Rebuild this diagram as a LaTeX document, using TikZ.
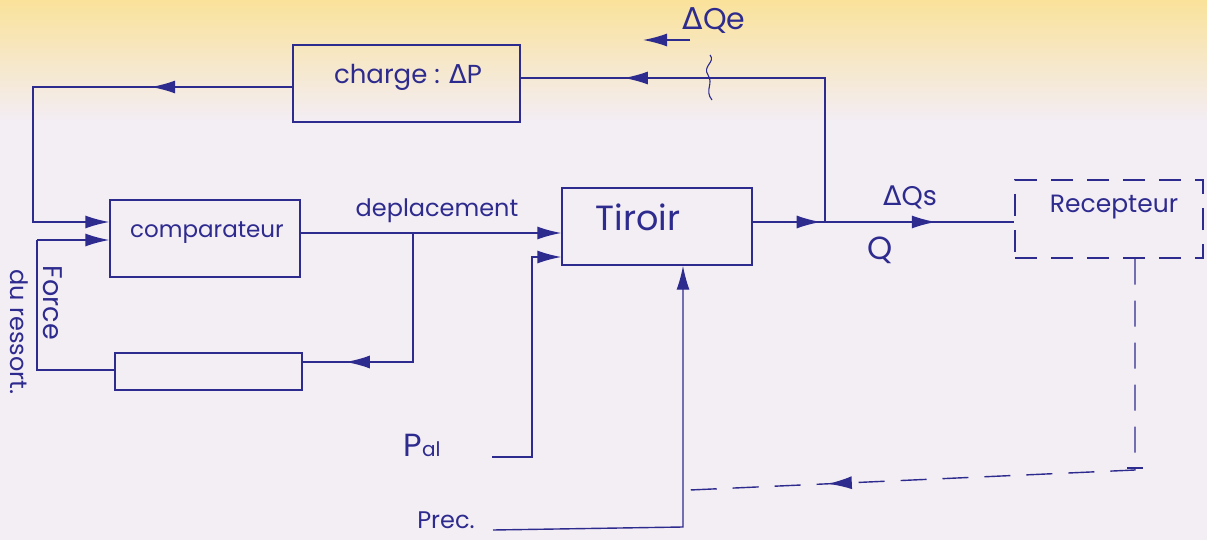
\documentclass[tikz,border=0pt]{standalone}
\usepackage{fontspec}
\setmainfont{Poppins}
\newfontfamily\djv{DejaVu Sans}
\newcommand{\Dlt}{{\djv Δ}}
\usetikzlibrary{arrows.meta,decorations.markings,calc}
\definecolor{ink}{HTML}{2E2B8E}
\definecolor{paper}{HTML}{F3EDF4}
\definecolor{yel}{HTML}{FAE29A}
\tikzset{
  line/.style={draw=ink,line width=1.4pt},
  blk/.style={draw=ink,line width=1.4pt,minimum width=#1,inner sep=0pt},
  lbl/.style={text=ink,inner sep=0pt},
  tip/.style={-{Latex[length=24pt,width=13pt]}},
  midtip/.style={postaction={decorate},decoration={markings,mark=at position #1 with {\arrow{Latex[length=24pt,width=13pt]}}}},
  twotips/.style 2 args={postaction={decorate},decoration={markings,mark=at position #1 with {\arrow{Latex[length=24pt,width=13pt]}},mark=at position #2 with {\arrow{Latex[length=24pt,width=13pt]}}}},
}
\begin{document}
\begin{tikzpicture}[x=1pt,y=-1pt]
\fill[paper] (0,0) rectangle (1207,540);
\shade[top color=yel,bottom color=paper] (0,0) rectangle (1207,120);
\useasboundingbox (0,0) rectangle (1207,540);
% blocks
\node[blk=227pt,minimum height=77pt] (charge) at (406.5,83.5) {};
\node[blk=190pt,minimum height=77pt] (comp) at (205,238.5) {};
\node[blk=187pt,minimum height=37pt] (low) at (208.5,371.5) {};
\node[blk=190pt,minimum height=77pt] (tir) at (657,226.5) {};
\node[blk=188pt,minimum height=78pt,dash pattern=on 22pt off 14pt] (rec) at (1109,219) {};
% labels
\node[lbl,font=\fontsize{26}{28}\selectfont] (tcharge) at (408,77) {charge : \Dlt P};
\node[lbl,font=\fontsize{23}{26}\selectfont] (tcomp) at (207,233) {comparateur};
\node[lbl,font=\fontsize{35}{38}\selectfont] (ttir) at (638,217) {Tiroir};
\node[lbl,font=\fontsize{25}{28}\selectfont] (trec) at (1114,207) {Recepteur};
\node[lbl,font=\fontsize{24}{26}\selectfont] (tdep) at (437,211) {deplacement};
\node[lbl,font=\fontsize{27}{30}\selectfont] (tqs) at (910,197) {\Dlt Qs};
\node[lbl,font=\fontsize{32}{34}\selectfont] (tq) at (880,250) {Q};
\node[lbl,font=\fontsize{30}{32}\selectfont] (tqe) at (714,21) {\Dlt Qe};
\node[lbl,font=\fontsize{32}{34}\selectfont] (tpal) at (422,445) {P{\fontsize{20}{22}\selectfont al}};
\node[lbl,font=\fontsize{24}{26}\selectfont] (tprec) at (446,520) {Prec.};
\node[lbl,rotate=-90,font=\fontsize{27}{30}\selectfont] (tforce) at (53,303) {Force};
\node[lbl,rotate=-90,font=\fontsize{24}{28}\selectfont] (tress) at (19,332) {du ressort.};
% coordinates
\coordinate (J) at (825,222);
\coordinate (Jt) at (825,78);
\coordinate (L1) at (33,87);
\coordinate (L2) at (33,222);
\coordinate (F1) at (37,240);
\coordinate (F2) at (37,370);
\coordinate (B) at (413,233);
\coordinate (B2) at (413,362);
\coordinate (pal0) at (492,457);
\coordinate (pal1) at (532,457);
\coordinate (pal2) at (532,257);
\coordinate (prec0) at (493,530);
\coordinate (prec1) at (683,527);
\coordinate (D1) at (1135,258);
\coordinate (D2) at (1135,470);
\coordinate (D3) at (690,490);
% connectors
\draw[line,midtip=0.77] (J) -- (Jt) -- (charge.east |- Jt);
\draw[line,midtip=0.30,tip] (charge.west |- L1) -- (L1) -- (L2) -- (comp.west |- L2);
\draw[line,tip] (F1) -- (comp.west |- F1);
\draw[line] (F1) -- (F2) -- (low.west |- F2);
\draw[line,tip] (comp.east |- B) -- (tir.west |- B);
\draw[line,midtip=0.82] (B) -- (B2) -- (low.east |- B2);
\draw[line,twotips={0.26}{0.70}] (tir.east |- J) -- (rec.west |- J);
\draw[line,tip] (pal0) -- (pal1) -- (pal2) -- (tir.west |- pal2);
\draw[line,tip] (prec0) -- (prec1) -- (tir.south -| prec1);
\draw[line,dash pattern=on 26pt off 16pt,midtip=0.79] (rec.south -| D1) -- (D2) -- (D3);
\draw[line] (D2) ++(-8,-2) -- ++(16,0);
\draw[line] (rec.south -| D1) ++(-10,0) -- ++(20,0);
% small arrow and squiggle
\coordinate (sa0) at (690,40);
\coordinate (sa1) at (643,40);
\draw[line,tip] (sa0) -- (sa1);
\draw[line,line width=1.1pt] (710,55) .. controls (716,62) and (702,66) .. (708,75) .. controls (714,84) and (704,90) .. (712,100);
\end{tikzpicture}
\end{document}
